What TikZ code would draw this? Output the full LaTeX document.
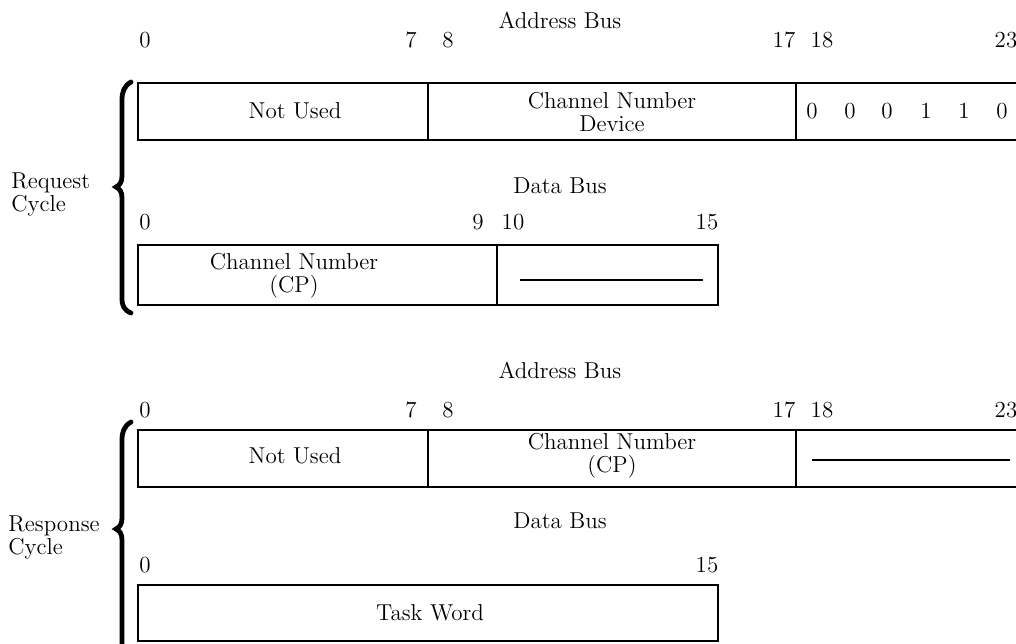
\documentclass[tikz,border=0pt]{standalone}
\begin{document}
\begin{tikzpicture}[x=0.5pt,y=-0.5pt,
  txt/.style={font=\fontsize{11.5}{11.5}\selectfont, inner sep=0pt, align=center},
  fieldline/.style={line width=1.1pt},
  brace/.style={line width=2.4pt, line cap=round}]
\useasboundingbox (0,0) rectangle (1016,643);
\clip (0,0) rectangle (1016,643);
% ---------------- Request cycle ----------------
\node[txt] (ab1) at (560,20) {Address Bus};
\node[txt] (r1b0) at (145,40) {0};
\node[txt] (r1b7) at (411,40) {7};
\node[txt] (r1b8) at (448,40) {8};
\node[txt] (r1b17) at (784,40) {17};
\node[txt] (r1b18) at (822,40) {18};
\node[txt] (r1b23) at (1006,40) {23};
\draw[fieldline] (1030,83) -- (138,83) -- (138,140) -- (1030,140);
\draw[fieldline] (428,83) -- (428,140);
\draw[fieldline] (796,83) -- (796,140);
\node[txt] (nu1) at (295,111) {Not Used};
\node[txt] (cnd) at (612,112) {Channel Number\\Device};
\node[txt] (b0a) at (812,111) {0};
\node[txt] (b0b) at (850,111) {0};
\node[txt] (b0c) at (887,111) {0};
\node[txt] (b1a) at (926,111) {1};
\node[txt] (b1b) at (964,111) {1};
\node[txt] (b0d) at (1002,111) {0};
\node[txt] (db1) at (560,186) {Data Bus};
\node[txt] (r2b0) at (145,222) {0};
\node[txt] (r2b9) at (478,222) {9};
\node[txt] (r2b10) at (513,222) {10};
\node[txt] (r2b15) at (707,222) {15};
\draw[fieldline] (138,245) rectangle (718,305);
\draw[fieldline] (497,245) -- (497,305);
\node[txt] (cncp1) at (294,276) {Channel Number\\(CP)};
\coordinate (l1a) at (520,280);
\coordinate (l1b) at (703,280);
\draw[fieldline] (l1a) -- (l1b);
\draw[brace] (131,82) .. controls (124,86) and (122,92) .. (122,100) -- (122,176)
  .. controls (122,182) and (120,185) .. (116,187)
  .. controls (120,189) and (122,192) .. (122,198) -- (122,298)
  .. controls (122,306) and (124,310) .. (131,313);
\node[txt, anchor=west, align=left] (req) at (11,194) {Request\\Cycle};
% ---------------- Response cycle ----------------
\node[txt] (ab2) at (560,370) {Address Bus};
\node[txt] (r3b0) at (145,410) {0};
\node[txt] (r3b7) at (411,410) {7};
\node[txt] (r3b8) at (448,410) {8};
\node[txt] (r3b17) at (784,410) {17};
\node[txt] (r3b18) at (822,410) {18};
\node[txt] (r3b23) at (1006,410) {23};
\draw[fieldline] (1030,430) -- (138,430) -- (138,487) -- (1030,487);
\draw[fieldline] (428,430) -- (428,487);
\draw[fieldline] (796,430) -- (796,487);
\node[txt] (nu2) at (295,456) {Not Used};
\node[txt] (cncp2) at (612,456) {Channel Number\\(CP)};
\coordinate (l2a) at (812,460);
\coordinate (l2b) at (1010,460);
\draw[fieldline] (l2a) -- (l2b);
\node[txt] (db2) at (560,521) {Data Bus};
\node[txt] (r4b0) at (145,565) {0};
\node[txt] (r4b15) at (707,565) {15};
\draw[fieldline] (138,585) rectangle (718,641);
\node[txt] (tw) at (430,613) {Task Word};
\draw[brace] (131,422) .. controls (124,426) and (122,432) .. (122,440) -- (122,518)
  .. controls (122,524) and (120,527) .. (116,529)
  .. controls (120,531) and (122,534) .. (122,540) -- (122,650);
\node[txt, anchor=west, align=left] (resp) at (8,537) {Response\\Cycle};
\end{tikzpicture}
\end{document}
